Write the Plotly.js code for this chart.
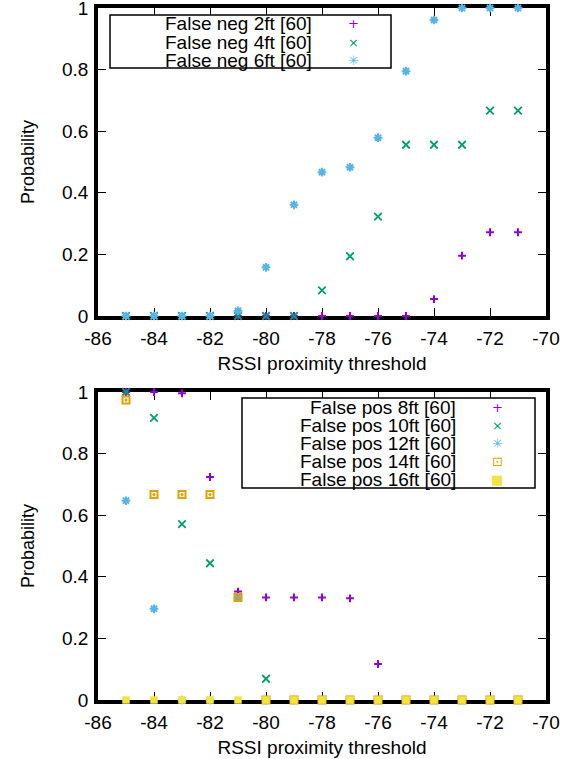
<!DOCTYPE html>
<html>
<head>
<meta charset="utf-8">
<script src="https://cdn.plot.ly/plotly-3.0.1.min.js"></script>
<style>html,body{margin:0;padding:0;background:#fff;}#chart{width:568px;height:759px;}</style>
</head>
<body>
<div id="chart"></div>
<script>
// ---------- data ----------
var thresholds = [-85, -84, -83, -82, -81, -80, -79, -78, -77, -76, -75, -74, -73, -72, -71];

var falseNeg2ft = [0, 0, 0, 0, 0, 0, 0, 0, 0, 0, 0, 0.055, 0.196, 0.272, 0.272];
var falseNeg4ft = [0, 0, 0, 0, 0, 0, 0, 0.083, 0.194, 0.323, 0.556, 0.556, 0.556, 0.667, 0.667];
var falseNeg6ft = [0, 0, 0, 0, 0.017, 0.158, 0.361, 0.467, 0.483, 0.579, 0.795, 0.961, 1, 1, 1];

var falsePos8ft  = [1, 1, 0.996, 0.724, 0.352, 0.333, 0.333, 0.333, 0.330, 0.117, 0, 0, 0, 0, 0];
var falsePos10ft = [1, 0.916, 0.571, 0.444, 0.333, 0.069, 0, 0, 0, 0, 0, 0, 0, 0, 0];
var falsePos12ft = [0.647, 0.296, 0, 0, 0.333, 0, 0, 0, 0, 0, 0, 0, 0, 0, 0];
var falsePos14ft = [0.974, 0.667, 0.667, 0.667, 0.333, 0, 0, 0, 0, 0, 0, 0, 0, 0, 0];
var falsePos16ft = [0, 0, 0, 0, 0, 0, 0, 0, 0, 0, 0, 0, 0, 0, 0];

var negNames = ['False neg 2ft [60]', 'False neg 4ft [60]', 'False neg 6ft [60]'];
var posNames = ['False pos 8ft [60]', 'False pos 10ft [60]', 'False pos 12ft [60]', 'False pos 14ft [60]', 'False pos 16ft [60]'];

var xTickVals = [-86, -84, -82, -80, -78, -76, -74, -72, -70];
var xTickText = ['-86', '-84', '-82', '-80', '-78', '-76', '-74', '-72', '-70'];
var yTickVals = [0, 0.2, 0.4, 0.6, 0.8, 1];
var yTickText = ['0', '0.2', '0.4', '0.6', '0.8', '1'];
var xTitle = 'RSSI proximity threshold';
var yTitle = 'Probability';

// ---------- styles ----------
var FONT = 'Liberation Sans, Arial, sans-serif';
var styles = [
  {color: '#9400d3', symbol: 'cross-thin-open', size: 5.6, lw: 2, glyph: '+'},
  {color: '#009e73', symbol: 'x-thin-open', size: 7.5, lw: 1.8, glyph: '×'},
  {color: '#56b4e9', symbol: 'asterisk-open', size: 7.2, lw: 2, glyph: '✳'},
  {color: '#e69f00', symbol: 'square-open-dot', size: 7, lw: 2, glyph: '⊡'},
  {color: '#f0e442', symbol: 'square', size: 7.5, lw: 0, glyph: '■'}
];

function mk(y, name, st, xa, ya) {
  return {
    type: 'scatter', mode: 'markers', x: thresholds, y: y, name: name,
    xaxis: xa, yaxis: ya, cliponaxis: false, showlegend: false,
    marker: {symbol: st.symbol, size: st.size, color: st.color,
             line: {color: st.color, width: st.lw}}
  };
}

var traces = [];
var negSeries = [falseNeg2ft, falseNeg4ft, falseNeg6ft];
var posSeries = [falsePos8ft, falsePos10ft, falsePos12ft, falsePos14ft, falsePos16ft];
negSeries.forEach(function (s, i) { traces.push(mk(s, negNames[i], styles[i], 'x', 'y')); });
posSeries.forEach(function (s, i) { traces.push(mk(s, posNames[i], styles[i], 'x2', 'y2')); });

// ---------- layout geometry (pixels -> paper) ----------
var W = 568, H = 759;
var M = {l: 98, r: 22, t: 8, b: 59};
var PW = W - M.l - M.r, PH = H - M.t - M.b;
function px(x) { return (x - M.l) / PW; }
function py(y) { return (H - M.b - y) / PH; }

function xaxisDef(anchor) {
  return {
    anchor: anchor, domain: [0, 1], range: [-86, -70],
    tickmode: 'array', tickvals: xTickVals, ticktext: xTickText,
    ticks: 'inside', ticklen: 8, tickwidth: 1, tickcolor: '#000',
    showline: true, linewidth: 3.8, linecolor: '#000', mirror: 'ticks',
    showgrid: false, zeroline: false, layer: 'below traces',
    tickfont: {family: FONT, size: 19, color: '#000'},
    ticklabelstandoff: 2, ticklabeloverflow: 'allow',
    title: {text: xTitle, font: {family: FONT, size: 19, color: '#000'}, standoff: 10}
  };
}
function yaxisDef(anchor, dom) {
  return {
    anchor: anchor, domain: dom, range: [0, 1],
    tickmode: 'array', tickvals: yTickVals, ticktext: yTickText,
    ticks: 'inside', ticklen: 8, tickwidth: 1, tickcolor: '#000',
    showline: true, linewidth: 3.8, linecolor: '#000', mirror: 'ticks',
    showgrid: false, zeroline: false, layer: 'below traces',
    tickfont: {family: FONT, size: 19, color: '#000'},
    ticklabelstandoff: 2, ticklabeloverflow: 'allow',
    title: {text: yTitle, font: {family: FONT, size: 18, color: '#000'}, standoff: 24}
  };
}

var shapes = [], annotations = [];
function legend(names, stylesUsed, box, textRight, keyX, rowYs) {
  shapes.push({type: 'rect', xref: 'paper', yref: 'paper', layer: 'above',
    x0: px(box[0]), x1: px(box[1]), y0: py(box[3]), y1: py(box[2]),
    line: {color: '#000', width: 1.5}, fillcolor: '#fff'});
  names.forEach(function (n, i) {
    annotations.push({xref: 'paper', yref: 'paper', x: px(textRight), y: py(rowYs[i]),
      xanchor: 'right', yanchor: 'middle', showarrow: false, text: n, borderpad: 0,
      font: {family: FONT, size: 19, color: '#000'}});
    annotations.push({xref: 'paper', yref: 'paper', x: px(keyX), y: py(rowYs[i]),
      xanchor: 'center', yanchor: 'middle', showarrow: false, text: stylesUsed[i].glyph, borderpad: 0,
      font: {family: 'DejaVu Sans, sans-serif', size: 13, color: stylesUsed[i].color}});
  });
}
legend(negNames, styles, [110, 391, 15, 68], 313, 353, [24, 42, 60]);
legend(posNames, styles, [242, 535, 398, 488], 457, 497, [408, 425.5, 443.5, 461, 479]);

var layout = {
  width: W, height: H, margin: M,
  paper_bgcolor: '#fff', plot_bgcolor: '#fff',
  showlegend: false,
  xaxis: xaxisDef('y'),
  yaxis: yaxisDef('x', [py(316), 1]),
  xaxis2: xaxisDef('y2'),
  yaxis2: yaxisDef('x2', [0, py(392)]),
  shapes: shapes, annotations: annotations
};

Plotly.newPlot('chart', traces, layout, {staticPlot: true, displayModeBar: false});
</script>
</body>
</html>
